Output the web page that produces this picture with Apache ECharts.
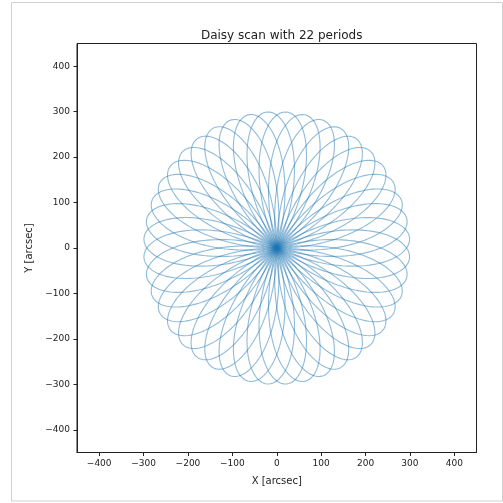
<!DOCTYPE html>
<html>
<head>
<meta charset="utf-8">
<script src="https://cdn.jsdelivr.net/npm/echarts@6/dist/echarts.min.js"></script>
<style>html,body{margin:0;padding:0;background:#fff}#c{width:503px;height:503px}</style>
</head>
<body>
<div id="c"></div>
<script>
// ---- chart values ----
const periods = 22;          // radial periods of the daisy scan (title)
const radius = [300];        // petal tip radius, arcsec
const rotations = [7];       // full turns of the pattern over the scan
const tickValues = [-400, -300, -200, -100, 0, 100, 200, 300, 400];
const axisRange = [-450, 450];
const samplesPerPetal = 200;

// daisy (rose) scan path: r = R sin(k*theta), k = periods / rotations
const k = periods / rotations[0];
const nPetals = 2 * periods;
const thetaMax = 2 * Math.PI * rotations[0];
const petals = [];
for (let p = 0; p < nPetals; p++) {
  const seg = [];
  for (let j = 0; j <= samplesPerPetal; j++) {
    const th = thetaMax * (p * samplesPerPetal + j) / (nPetals * samplesPerPetal);
    const r = radius[0] * Math.sin(k * th);
    seg.push([r * Math.cos(th), r * Math.sin(th)]);
  }
  petals.push(seg);
}

const fmt = v => (v < 0 ? '\u2212' + Math.abs(v) : String(v));
const font = 'DejaVu Sans';
const axisCommon = {
  type: 'value', min: axisRange[0], max: axisRange[1],
  splitLine: { show: false },
  axisLine: { show: true, onZero: false, lineStyle: { color: '#222', width: 1 } },
  axisTick: { show: true, inside: false, length: 3.5, customValues: tickValues, lineStyle: { color: '#222' } },
  axisLabel: { customValues: tickValues, formatter: fmt, color: '#222', fontFamily: font, fontSize: 9, margin: 7 },
  nameLocation: 'middle',
  nameTextStyle: { color: '#222', fontFamily: font, fontSize: 10 }
};

const chart = echarts.init(document.getElementById('c'), null, { renderer: 'canvas' });
chart.setOption({
  animation: false,
  backgroundColor: '#fff',
  graphic: [{
    type: 'rect', shape: { x: 11.5, y: 2.5, width: 491, height: 498.5 },
    style: { fill: 'none', stroke: '#d0d0d0', lineWidth: 1 }, silent: true, z: -1
  }],
  title: {
    text: 'Daisy scan with 22 periods', left: 276.7, top: 25, textAlign: 'center',
    textStyle: { fontFamily: font, fontSize: 12, fontWeight: 'normal', color: '#222' }
  },
  grid: { left: 77, right: 26.5, top: 43.5, bottom: 50.5, show: true, borderColor: '#222', borderWidth: 1, containLabel: false },
  xAxis: Object.assign({}, axisCommon, { name: 'X [arcsec]', nameGap: 24 }),
  yAxis: Object.assign({}, axisCommon, { name: 'Y [arcsec]', nameGap: 36 }),
  series: petals.map(seg => ({
    type: 'line', data: seg, showSymbol: false, symbol: 'none', sampling: false,
    clip: true, smooth: false, silent: true,
    lineStyle: { color: '#1f77b4', width: 1.1, opacity: 0.5 }
  }))
});
</script>
</body>
</html>
